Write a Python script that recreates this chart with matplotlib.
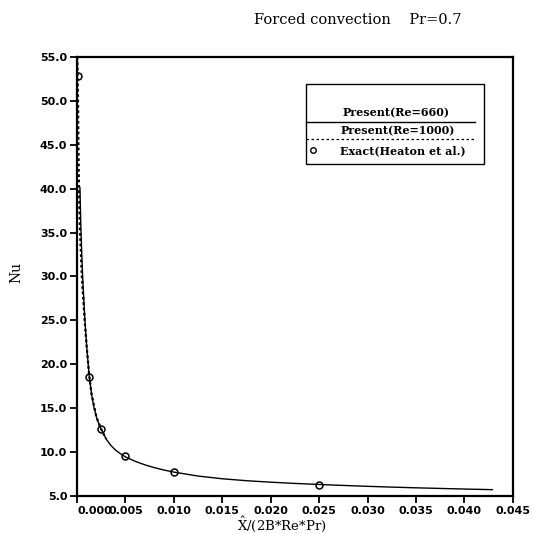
import matplotlib
matplotlib.use("Agg")
import matplotlib.pyplot as plt
from matplotlib.patches import Rectangle

# Exact solution (Heaton et al.)
x_exact = [0.0001, 0.00125, 0.0025, 0.005, 0.010, 0.025]
nu_exact = [52.8, 18.5, 12.6, 9.5, 7.7, 6.3]

# Present results, Re=660
x_660 = [0.0003, 0.0004, 0.0005, 0.0006, 0.0008, 0.0010, 0.00125, 0.0015,
         0.00175, 0.0020, 0.00225, 0.0025, 0.0030, 0.0035, 0.0040, 0.0045,
         0.0050, 0.0060, 0.0070, 0.0080, 0.0090, 0.010, 0.0125, 0.015,
         0.0175, 0.020, 0.0225, 0.025, 0.0275, 0.030, 0.0325, 0.035,
         0.0375, 0.040, 0.0429]
nu_660 = [40.1, 35.5, 32.2, 29.5, 25.3, 22.0, 18.8, 16.6,
          15.1, 14.0, 13.2, 12.6, 11.5, 10.75, 10.2, 9.8,
          9.45, 8.95, 8.55, 8.22, 7.95, 7.72, 7.27, 6.96,
          6.74, 6.57, 6.43, 6.31, 6.2, 6.1, 6.01, 5.93,
          5.86, 5.79, 5.72]

# Present results, Re=1000
x_1000 = [0.00003, 0.0001, 0.00015, 0.0002, 0.0003, 0.0005, 0.0008, 0.0010,
          0.00125, 0.0015, 0.0020, 0.0025, 0.0030]
nu_1000 = [55.0, 50.0, 44.5, 40.5, 35.5, 30.0, 24.8, 22.0,
           18.8, 16.6, 14.0, 12.6, 11.5]

xticks = [0.000, 0.005, 0.010, 0.015, 0.020, 0.025, 0.030, 0.035, 0.040, 0.045]
yticks = [5, 10, 15, 20, 25, 30, 35, 40, 45, 50, 55]

plt.rcParams['mathtext.fontset'] = 'dejavuserif'

fig = plt.figure(figsize=(5.33, 5.34), dpi=100)
ax = fig.add_axes([0.1445, 0.0712, 0.8175, 0.8221])

ax.plot(x_1000, nu_1000, c='k', lw=1.6, ls=(0, (1.2, 1.2)))
ax.plot(x_660, nu_660, c='k', lw=1.0)
ax.plot(x_exact, nu_exact, 'o', mfc='none', mec='k', ms=5, mew=1.1)

ax.set_xlim(0, 0.045)
ax.set_ylim(5, 55)
ax.set_xticks(xticks)
ax.set_yticks(yticks)
ax.set_xticklabels([f'{v:.3f}' for v in xticks])
ax.set_yticklabels([f'{v:.1f}' for v in yticks])
ax.get_xticklabels()[0].set_horizontalalignment('left')
for lab in ax.get_xticklabels() + ax.get_yticklabels():
    lab.set_fontweight('bold')
    lab.set_fontsize(8)
    lab.set_family('DejaVu Sans')
ax.tick_params(direction='out', length=5, width=1.3, pad=2)
for sp in ax.spines.values():
    sp.set_linewidth(1.6)

# legend drawn by hand: label above each line sample
tr = ax.transAxes
ax.add_patch(Rectangle((0.5256, 0.756), 0.408, 0.1825, transform=tr,
                       fill=False, lw=1.0, ec='k'))
ax.text(0.732, 0.872, 'Present(Re=660)', transform=tr, ha='center', va='center',
        family='DejaVu Serif', fontweight='bold', fontsize=8)
ax.plot([0.5256, 0.913], [0.852, 0.852], c='k', lw=1.0, transform=tr)
ax.text(0.737, 0.832, 'Present(Re=1000)', transform=tr, ha='center', va='center',
        family='DejaVu Serif', fontweight='bold', fontsize=8)
ax.plot([0.5256, 0.913], [0.813, 0.813], c='k', lw=0.9, ls=(0, (2, 2)), transform=tr)
ax.plot([0.542], [0.787], 'o', mfc='none', mec='k', ms=4, mew=1.0, transform=tr)
ax.text(0.604, 0.787, 'Exact(Heaton et al.)', transform=tr, ha='left', va='center',
        family='DejaVu Serif', fontweight='bold', fontsize=8)

fig.text(358 / 533, 0.962, 'Forced convection    Pr=0.7', ha='center', va='center',
         family='DejaVu Serif', fontsize=10.5)
fig.text(0.03, 0.49, 'Nu', rotation=90, ha='center', va='center',
         family='DejaVu Serif', fontsize=10)
fig.text(282 / 533, 1 - 530 / 534, r'$\hat{\mathrm{X}}$/(2B*Re*Pr)', ha='center',
         va='baseline', family='DejaVu Serif', fontsize=9.5)

plt.savefig("out.png", dpi=100)
plt.close()
